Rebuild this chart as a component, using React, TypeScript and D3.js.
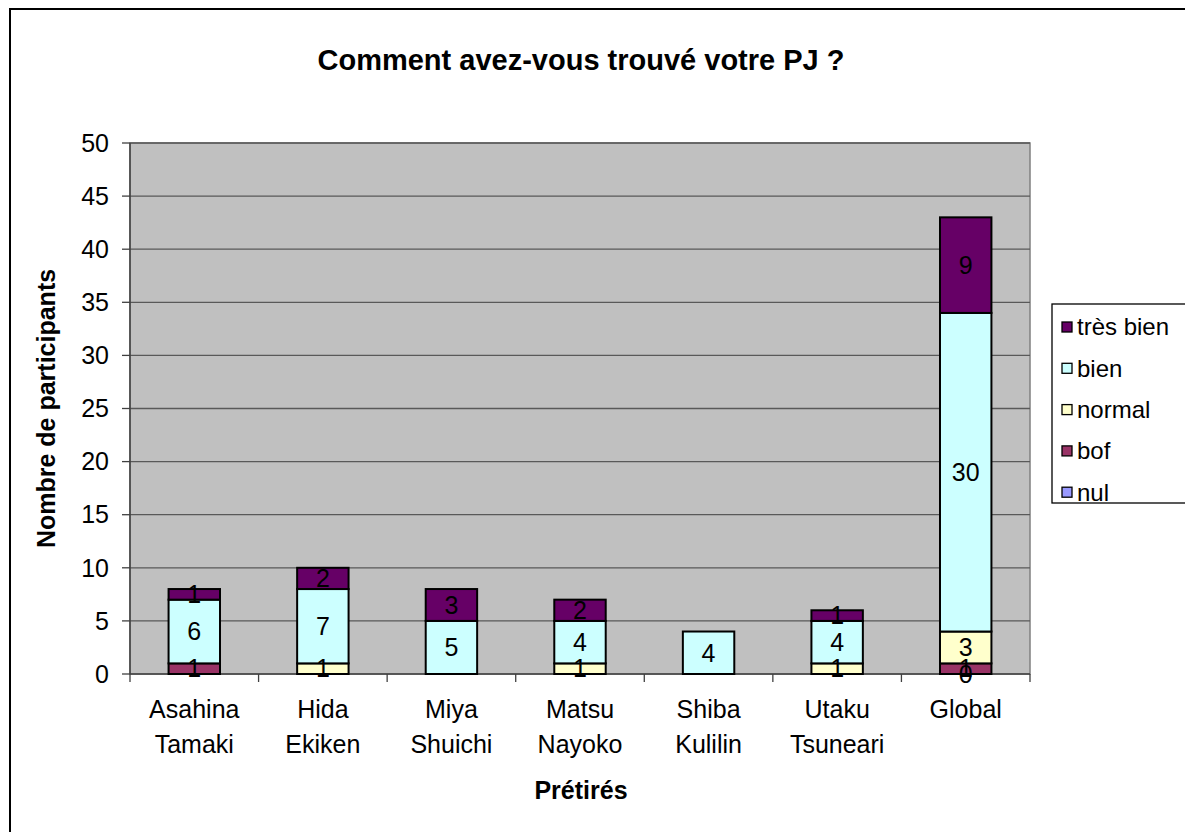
import React from 'react'
import * as d3 from 'd3'

const categories = [
  ['Asahina', 'Tamaki'],
  ['Hida', 'Ekiken'],
  ['Miya', 'Shuichi'],
  ['Matsu', 'Nayoko'],
  ['Shiba', 'Kulilin'],
  ['Utaku', 'Tsuneari'],
  ['Global'],
]
const seriesNames = ['nul', 'bof', 'normal', 'bien', 'très bien']
const nul = [null, null, null, null, null, null, 0]
const bof = [1, null, null, null, null, null, 1]
const normal = [null, 1, null, 1, null, 1, 3]
const bien = [6, 7, 5, 4, 4, 4, 30]
const tresBien = [1, 2, 3, 2, null, 1, 9]
const yTicks = [0, 5, 10, 15, 20, 25, 30, 35, 40, 45, 50]

const colors = ['#9999FF', '#993366', '#FFFFCC', '#CCFFFF', '#660066']
const font = 'Arial, "Liberation Sans", sans-serif'

const plot = { left: 130, top: 143, right: 1030, bottom: 674 }

export default function App() {
  const allSeries = [nul, bof, normal, bien, tresBien]
  const x = d3.scaleBand<number>()
    .domain(d3.range(categories.length))
    .range([plot.left, plot.right])
    .paddingInner(0.6)
    .paddingOuter(0.3)
  const y = d3.scaleLinear().domain([0, 50]).range([plot.bottom, plot.top])

  const rows = categories.map((_, i) => {
    const r: any = {}
    seriesNames.forEach((s, k) => { r[s] = allSeries[k][i] ?? 0 })
    return r
  })
  const stacked = d3.stack().keys(seriesNames)(rows)
  const step = (plot.right - plot.left) / categories.length

  return (
    <svg width={1185} height={832} style={{ position: 'absolute', left: 0, top: 0, display: 'block' }}
      fontFamily={font}>
      <rect x={0} y={0} width={1185} height={832} fill='#fff' />
      <rect x={10} y={9} width={1200} height={850} fill='#fff' stroke='#000' strokeWidth={2} />
      <text x={581} y={70} textAnchor='middle' fontSize={29} fontWeight='bold'>
        Comment avez-vous trouvé votre PJ ?
      </text>

      <rect x={plot.left} y={plot.top} width={plot.right - plot.left} height={plot.bottom - plot.top}
        fill='#C0C0C0' stroke='#808080' strokeWidth={1.5} />
      {yTicks.slice(1).map(t => (
        <line key={t} x1={plot.left} x2={plot.right} y1={y(t)} y2={y(t)} stroke='#595959' strokeWidth={1.3} />
      ))}
      <line x1={plot.left} x2={plot.left} y1={plot.top} y2={plot.bottom} stroke='#404040' strokeWidth={1.5} />
      <line x1={plot.left} x2={plot.right} y1={plot.bottom} y2={plot.bottom} stroke='#404040' strokeWidth={1.5} />
      {yTicks.map(t => (
        <g key={t}>
          <line x1={plot.left - 8} x2={plot.left} y1={y(t)} y2={y(t)} stroke='#404040' strokeWidth={1.3} />
          <text x={plot.left - 21} y={y(t)} dy='0.35em' textAnchor='end' fontSize={25}>{t}</text>
        </g>
      ))}
      {d3.range(categories.length + 1).map(i => (
        <line key={i} x1={plot.left + i * step} x2={plot.left + i * step}
          y1={plot.bottom} y2={plot.bottom + 8} stroke='#404040' strokeWidth={1.3} />
      ))}

      {stacked.map((layer, k) => (
        <g key={layer.key}>
          {layer.map((d, i) => allSeries[k][i] == null || d[1] - d[0] === 0 ? null : (
            <rect key={i} x={x(i)} y={y(d[1])} width={x.bandwidth()} height={y(d[0]) - y(d[1])}
              fill={colors[k]} stroke='#000' strokeWidth={2} />
          ))}
        </g>
      ))}
      {stacked.map((layer, k) => (
        <g key={layer.key + 'l'}>
          {layer.map((d, i) => allSeries[k][i] == null ? null : (
            <text key={i} x={(x(i) as number) + x.bandwidth() / 2} y={y((d[0] + d[1]) / 2)} dy='0.35em'
              textAnchor='middle' fontSize={25}>{allSeries[k][i]}</text>
          ))}
        </g>
      ))}

      {categories.map((c, i) => (
        <text key={i} x={(x(i) as number) + x.bandwidth() / 2} y={718} textAnchor='middle' fontSize={25}>
          {c.map((line, j) => <tspan key={j} x={(x(i) as number) + x.bandwidth() / 2} dy={j === 0 ? 0 : 35}>{line}</tspan>)}
        </text>
      ))}
      <text x={581} y={799} textAnchor='middle' fontSize={25} fontWeight='bold'>Prétirés</text>
      <text transform={`translate(55, ${(plot.top + plot.bottom) / 2}) rotate(-90)`} textAnchor='middle'
        fontSize={25} fontWeight='bold'>Nombre de participants</text>

      <rect x={1052} y={304} width={200} height={199} fill='#fff' stroke='#000' strokeWidth={1.3} />
      {seriesNames.slice().reverse().map((s, j) => (
        <g key={s} transform={`translate(1062, ${327 + j * 41.3})`}>
          <rect x={0} y={-5} width={10} height={10} fill={colors[seriesNames.length - 1 - j]} stroke='#000' strokeWidth={1.3} />
          <text x={15} y={0} dy='0.35em' fontSize={24}>{s}</text>
        </g>
      ))}
    </svg>
  )
}
